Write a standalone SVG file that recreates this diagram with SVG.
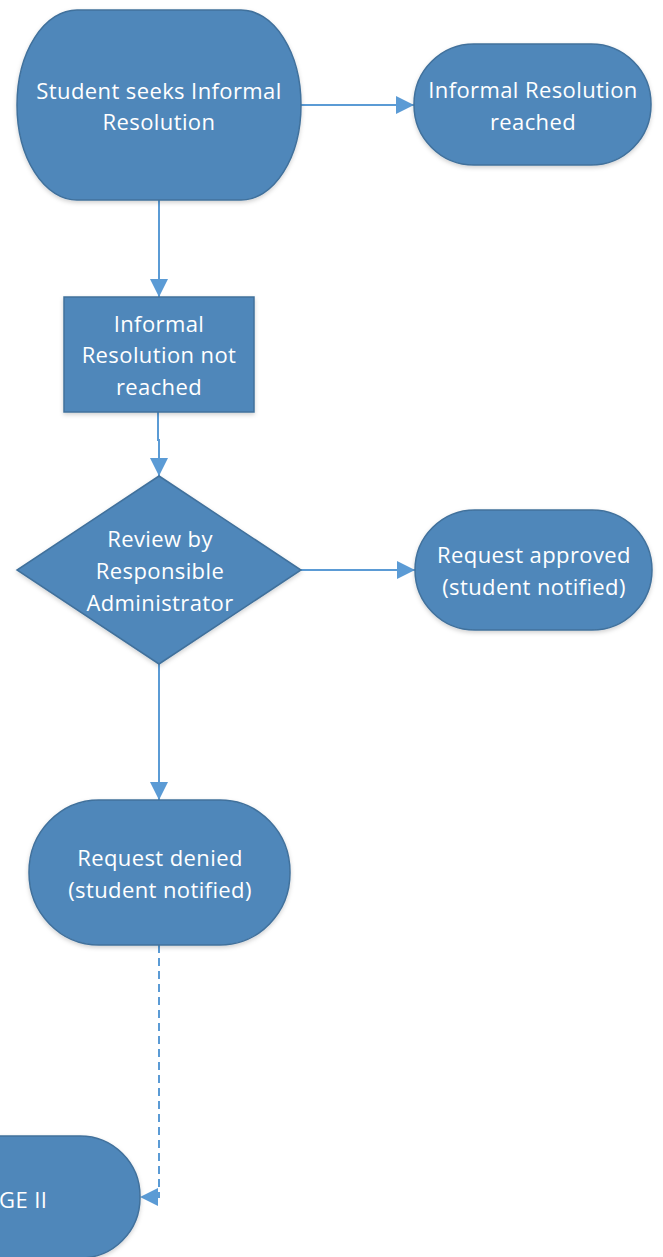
<svg xmlns="http://www.w3.org/2000/svg" width="663" height="1257" viewBox="0 0 663 1257">
  <defs>
    <marker id="arrow" markerUnits="userSpaceOnUse" markerWidth="18" markerHeight="18" refX="18" refY="9" orient="auto">
      <path d="M0,0 L18,9 L0,18 z" fill="#5B9BD5"/>
    </marker>
    <filter id="sh" x="-10%" y="-10%" width="120%" height="130%">
      <feDropShadow dx="0" dy="2" stdDeviation="2" flood-color="#000" flood-opacity="0.18"/>
    </filter>
    <style>
      .shape { fill: #4F87BA; stroke: #41719C; stroke-width: 1.5; filter: url(#sh); }
      .lbl { fill: #FFFFFF; font-family: "Open Sans", "Liberation Sans", sans-serif; font-size: 22px; letter-spacing: 0.4px; text-anchor: middle; }
      .conn { fill: none; stroke: #5B9BD5; stroke-width: 2; }
      .dash { stroke-dasharray: 8,5; }
    </style>
  </defs>

  <g id="connectors">
    <line class="conn" x1="301" y1="105" x2="414" y2="105" marker-end="url(#arrow)"/>
    <line class="conn" x1="159" y1="200" x2="159" y2="297" marker-end="url(#arrow)"/>
    <path class="conn" d="M158,412 L158,440 L159,440 L159,476" marker-end="url(#arrow)"/>
    <line class="conn" x1="301" y1="570" x2="415" y2="570" marker-end="url(#arrow)"/>
    <line class="conn" x1="159" y1="664" x2="159" y2="800" marker-end="url(#arrow)"/>
    <path class="conn dash" d="M159,945 L159,1197 L140,1197" marker-end="url(#arrow)"/>
  </g>

  <g id="node-seek">
    <rect class="shape" x="17" y="10" width="284" height="190" rx="60" ry="95"/>
    <text class="lbl" x="159" y="99">Student seeks Informal</text>
    <text class="lbl" x="159" y="130">Resolution</text>
  </g>

  <g id="node-reached">
    <rect class="shape" x="414" y="44" width="237" height="121" rx="60" ry="60"/>
    <text class="lbl" x="533" y="98">Informal Resolution</text>
    <text class="lbl" x="533" y="130">reached</text>
  </g>

  <g id="node-not-reached">
    <rect class="shape" x="64" y="297" width="190" height="115"/>
    <text class="lbl" x="159" y="332">Informal</text>
    <text class="lbl" x="159" y="363">Resolution not</text>
    <text class="lbl" x="159" y="395">reached</text>
  </g>

  <g id="node-review">
    <polygon class="shape" points="159,476 301,570 159,664 17,570"/>
    <text class="lbl" x="160" y="547">Review by</text>
    <text class="lbl" x="160" y="579">Responsible</text>
    <text class="lbl" x="160" y="611">Administrator</text>
  </g>

  <g id="node-approved">
    <rect class="shape" x="415" y="510" width="237" height="120" rx="60" ry="60"/>
    <text class="lbl" x="534" y="563">Request approved</text>
    <text class="lbl" x="534" y="595">(student notified)</text>
  </g>

  <g id="node-denied">
    <rect class="shape" x="29" y="800" width="261" height="145" rx="70" ry="72"/>
    <text class="lbl" x="160" y="866">Request denied</text>
    <text class="lbl" x="160" y="898">(student notified)</text>
  </g>

  <g id="node-stage2">
    <rect class="shape" x="-100" y="1136" width="240" height="122" rx="60" ry="60"/>
    <text class="lbl" x="-1" y="1208" style="text-anchor:start">GE II</text>
  </g>
</svg>
